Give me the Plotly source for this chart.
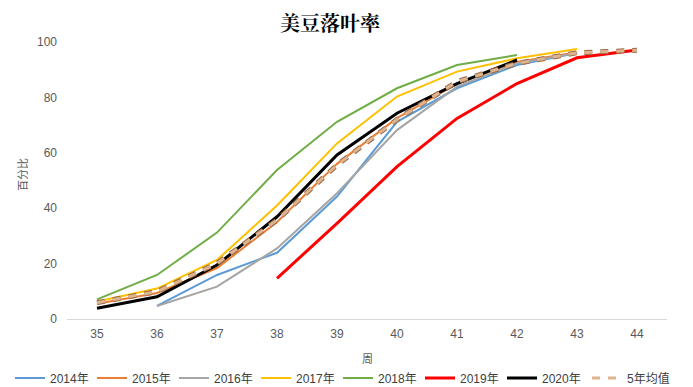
import plotly.graph_objects as go

# Weeks on the x axis
weeks = [35, 36, 37, 38, 39, 40, 41, 42, 43, 44]

# Leaf-drop percentage by year (None = no observation)
y2014 = [None, 4.7, 15.9, 23.9, 44.2, 71.2, 83.3, 91.7, 96.0, None]
y2015 = [5.5, 9.4, 18.4, 35.0, 56.0, 72.5, 85.0, 92.8, 96.3, None]
y2016 = [None, 4.7, 11.7, 25.5, 45.4, 68.2, 83.9, 92.3, 96.0, None]
y2017 = [6.3, 11.0, 21.3, 41.0, 63.4, 80.3, 89.3, 94.1, 97.5, None]
y2018 = [7.1, 15.9, 31.2, 53.8, 71.2, 83.3, 91.7, 95.3, None, None]
y2019 = [None, None, None, 14.7, 34.5, 55.0, 72.4, 85.0, 94.3, 97.1]
y2020 = [3.9, 8.0, 19.5, 36.9, 59.2, 74.3, 85.0, 93.5, None, None]
avg5 = [5.9, 9.9, 20.1, 35.7, 55.6, 72.0, 85.7, 92.3, 96.1, 97.0]

series = [
    ("2014年", y2014, "#5B9BD5", 2),
    ("2015年", y2015, "#ED7D31", 2),
    ("2016年", y2016, "#A5A5A5", 2),
    ("2017年", y2017, "#FFC000", 2),
    ("2018年", y2018, "#70AD47", 2),
    ("2019年", y2019, "#FF0000", 3),
    ("2020年", y2020, "#000000", 3),
]

fig = go.Figure()
for name, vals, color, w in series:
    fig.add_trace(go.Scatter(
        x=weeks, y=vals, name=name, mode="lines",
        line=dict(color=color, width=w),
        connectgaps=False,
    ))

# Five-year average: dark outline under a tan dashed stroke
fig.add_trace(go.Scatter(
    x=weeks, y=avg5, name="5年均值", mode="lines",
    line=dict(color="#9A6A48", width=5, dash="8px,8px"),
    showlegend=False, hoverinfo="skip",
))
fig.add_trace(go.Scatter(
    x=weeks, y=avg5, name="5年均值", mode="lines",
    line=dict(color="#DDB48E", width=3, dash="8px,8px"),
    legend="legend2",
))

font_cn = "Noto Sans CJK SC, Liberation Sans, sans-serif"
PW, PH = 600, 277  # plot area size in px
L, T = 67, 42


def px_x(p):
    return (p - L) / PW


def px_y(p):
    return 1 - (p - T) / PH


legend_common = dict(
    orientation="h", yanchor="middle", y=px_y(378), traceorder="normal",
    font=dict(size=12, color="#404040"),
    itemwidth=30, tracegroupgap=0, bgcolor="rgba(0,0,0,0)",
)

fig.update_layout(
    width=693, height=387,
    margin=dict(l=L, r=693 - L - PW, t=T, b=387 - T - PH, autoexpand=False),
    paper_bgcolor="white", plot_bgcolor="white",
    font=dict(family="Liberation Sans, " + font_cn, size=12, color="#595959"),
    showlegend=True,
    legend=dict(x=px_x(584), xanchor="right", entrywidth=37, **legend_common),
    legend2=dict(x=px_x(587), xanchor="left", **legend_common),
    xaxis=dict(
        range=[34.5, 44.5], tickmode="array", tickvals=weeks,
        ticktext=[str(w) for w in weeks],
        showgrid=False, zeroline=False,
        showline=True, linecolor="#D9D9D9", linewidth=1,
        ticks="", tickfont=dict(size=12, color="#595959"),
        ticklabelstandoff=4,
    ),
    yaxis=dict(
        range=[0, 100], tickvals=[0, 20, 40, 60, 80, 100],
        showgrid=False, zeroline=False, showline=False,
        ticks="", tickfont=dict(size=12, color="#595959"),
        ticklabelstandoff=9,
    ),
    annotations=[
        dict(text="<b>美豆落叶率</b>", xref="paper", yref="paper",
             x=px_x(330), y=px_y(22), xanchor="center", yanchor="middle",
             showarrow=False, font=dict(family="Noto Serif CJK SC, " + font_cn, size=20, color="#000000")),
        dict(text="周", xref="paper", yref="paper",
             x=px_x(367), y=px_y(358), xanchor="center", yanchor="middle",
             showarrow=False, font=dict(family=font_cn, size=11, color="#595959")),
        dict(text="百分比", xref="paper", yref="paper",
             x=px_x(22), y=px_y(175), xanchor="center", yanchor="middle",
             textangle=-90, showarrow=False, font=dict(family=font_cn, size=11, color="#595959")),
    ],
)

fig.write_html("out.html")
